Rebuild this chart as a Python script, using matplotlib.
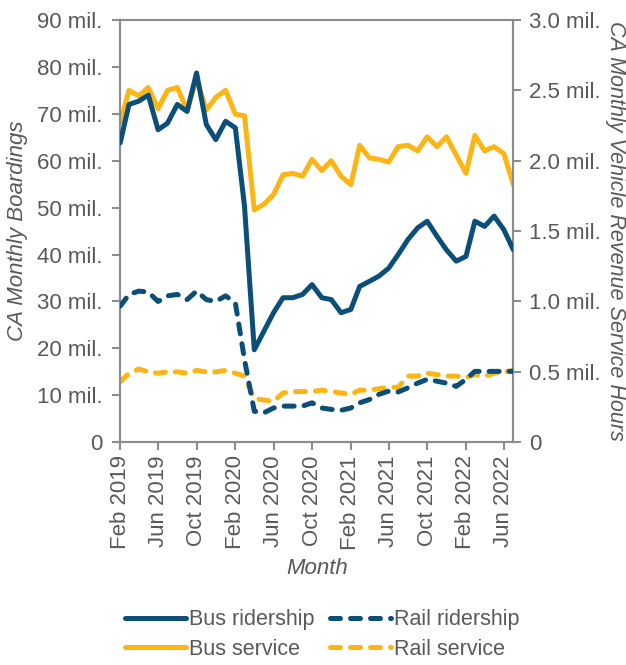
import matplotlib
matplotlib.use("Agg")
import matplotlib.pyplot as plt
from matplotlib.ticker import FuncFormatter
import pandas as pd

#-----------------------------
# DATA
#-----------------------------
months = pd.date_range("2019-02-01", periods=42, freq="MS")

# millions of boardings
bus_ridership = [63.8, 72.0, 72.7, 74.0, 66.6, 68.0, 72.0, 70.5, 78.7, 67.7,
                 64.5, 68.4, 67.0, 50.3, 19.7, 23.6, 27.6, 30.8, 30.8, 31.5,
                 33.6, 30.8, 30.4, 27.6, 28.3, 33.2, 34.3, 35.4, 37.1, 40.0,
                 43.2, 45.7, 47.1, 43.9, 41.0, 38.6, 39.6, 47.1, 46.0, 48.2,
                 45.3, 41.0]
rail_ridership = [29.0, 31.5, 32.2, 32.0, 30.0, 31.2, 31.5, 30.4, 32.2, 30.4,
                  30.0, 31.2, 29.7, 17.6, 6.6, 6.25, 7.3, 7.7, 7.7, 7.7,
                  8.4, 7.3, 7.0, 6.8, 7.3, 8.4, 9.1, 10.2, 10.9, 10.7,
                  11.6, 12.6, 13.4, 13.0, 12.6, 11.9, 13.4, 15.1, 15.1, 15.1,
                  15.1, 15.1]

# millions of vehicle revenue service hours
bus_service = [2.27, 2.50, 2.46, 2.52, 2.37, 2.50, 2.52, 2.36, 2.58, 2.36,
               2.45, 2.50, 2.33, 2.32, 1.65, 1.69, 1.76, 1.90, 1.91, 1.89,
               2.01, 1.93, 2.00, 1.89, 1.83, 2.11, 2.02, 2.01, 1.99, 2.10,
               2.11, 2.07, 2.17, 2.10, 2.17, 2.04, 1.91, 2.18, 2.07, 2.10,
               2.05, 1.83]
rail_service = [0.43, 0.49, 0.52, 0.50, 0.49, 0.50, 0.50, 0.49, 0.51, 0.50,
                0.50, 0.51, 0.49, 0.47, 0.31, 0.30, 0.29, 0.35, 0.36, 0.36,
                0.36, 0.37, 0.36, 0.35, 0.34, 0.37, 0.37, 0.38, 0.39, 0.39,
                0.47, 0.47, 0.49, 0.48, 0.47, 0.47, 0.46, 0.48, 0.47, 0.49,
                0.50, 0.51]

#-----------------------------
# STYLE
#-----------------------------
plt.rcParams["font.family"] = ["Liberation Sans", "DejaVu Sans"]
navy = "#0b4f79"
gold = "#fdb515"
grey_txt = "#595959"
grey_ax = "#8c8c8c"
lw = 3.6
dash = (2.0, 2.0)

fig = plt.figure(figsize=(6.26, 6.65), dpi=100)
ax = fig.add_axes([0.192, 0.335, 0.628, 0.635])
ax2 = ax.twinx()

ax.plot(months, bus_ridership, color=navy, lw=lw, solid_capstyle="round",
        label="Bus ridership", zorder=3)
ax.plot(months, rail_ridership, color=navy, lw=lw, dashes=dash,
        dash_capstyle="round", label="Rail ridership", zorder=3)
ax2.plot(months, bus_service, color=gold, lw=lw, solid_capstyle="round",
         label="Bus service", zorder=2)
ax2.plot(months, rail_service, color=gold, lw=lw, dashes=dash,
         dash_capstyle="round", label="Rail service", zorder=2)

# navy lines on top of gold ones
ax.set_zorder(ax2.get_zorder() + 1)
ax.patch.set_visible(False)

#-----------------------------
# AXES
#-----------------------------
ax.set_xlim(months[0], months[-1])
ax.set_ylim(0, 90)
ax2.set_ylim(0, 3.0)

ax.set_yticks(range(0, 91, 10))
ax.yaxis.set_major_formatter(FuncFormatter(lambda v, p: "0" if v == 0 else f"{v:.0f} mil."))
ax2.set_yticks([0, 0.5, 1.0, 1.5, 2.0, 2.5, 3.0])
ax2.yaxis.set_major_formatter(FuncFormatter(lambda v, p: "0" if v == 0 else f"{v:.1f} mil."))

ticks = months[::4]
ax.set_xticks(ticks)
ax.set_xticklabels([d.strftime("%b %Y") for d in ticks], rotation=90)

for a in (ax, ax2):
    for s in a.spines.values():
        s.set_color(grey_ax)
        s.set_linewidth(1.5)
    a.tick_params(colors=grey_ax, labelcolor=grey_txt, labelsize=16,
                  length=5.5, width=1.5)
ax.tick_params(axis="y", pad=7.5)
ax2.tick_params(axis="y", pad=6)
ax.tick_params(axis="x", pad=4)

ax.set_ylabel("CA Monthly Boardings", fontsize=16, style="italic",
              color=grey_txt, labelpad=6)
ax2.set_ylabel("CA Monthly Vehicle Revenue Service Hours", fontsize=15.5,
               style="italic", color=grey_txt, rotation=270, labelpad=18)
ax.set_xlabel("Month", fontsize=16, style="italic", color=grey_txt, labelpad=6)

#-----------------------------
# LEGEND
#-----------------------------
h1, l1 = ax.get_legend_handles_labels()
h2, l2 = ax2.get_legend_handles_labels()
# column-first fill: bus on left column, rail on right
handles = [h1[0], h2[0], h1[1], h2[1]]
labels = [l1[0], l2[0], l1[1], l2[1]]
leg = fig.legend(handles, labels, ncol=2, loc="center",
                 bbox_to_anchor=(0.515, 0.046), frameon=False, fontsize=15.5,
                 handlelength=2.8, handletextpad=0.15, columnspacing=0.75,
                 labelspacing=0.4)
for t in leg.get_texts():
    t.set_color(grey_txt)

plt.savefig("out.png", dpi=100)
plt.close()
